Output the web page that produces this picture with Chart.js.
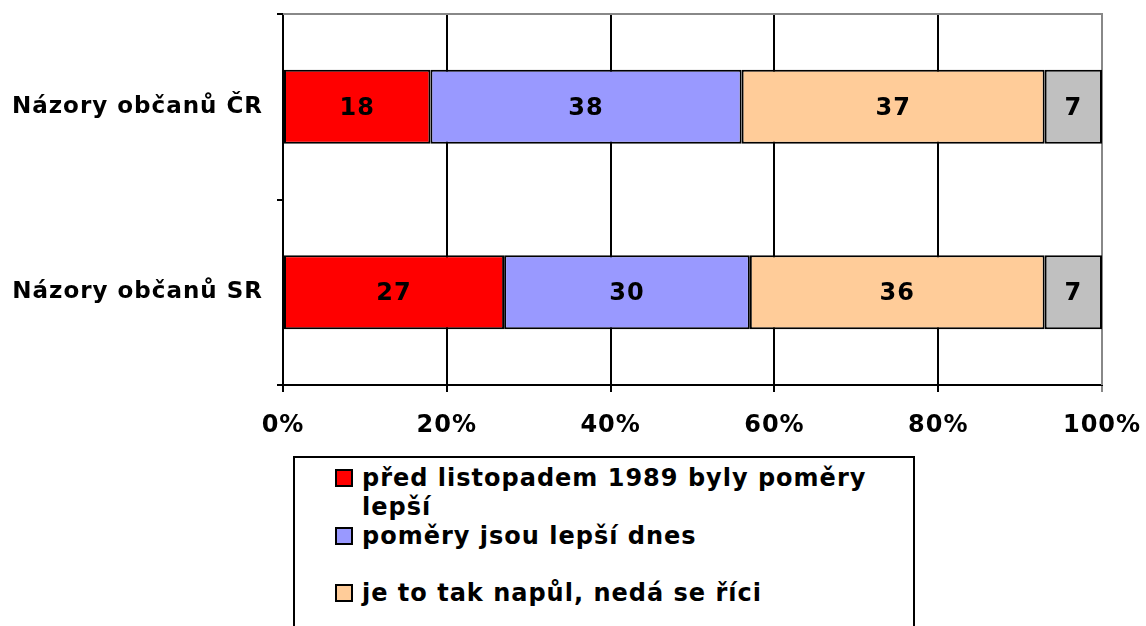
<!DOCTYPE html>
<html>
<head>
<meta charset="utf-8">
<script src="https://cdn.jsdelivr.net/npm/chart.js@4.4.1/dist/chart.umd.min.js"></script>
<style>
  html, body { margin: 0; padding: 0; background: #fff; overflow: hidden; }
  #wrap { position: relative; width: 1146px; height: 626px; }
  #legend {
    position: absolute; left: 293px; top: 456px; width: 618px; height: 240px;
    border: 2px solid #000; background: #fff;
    font: bold 24px "DejaVu Sans", Verdana, sans-serif; letter-spacing: 1px; color: #000;
  }
  .item { position: absolute; left: 40px; width: 560px; line-height: 29px; }
  .sw { position: absolute; left: 0; top: 5px; width: 14px; height: 14px; border: 2px solid #000; }
  .txt { position: absolute; left: 27px; top: 0; width: 530px; }
</style>
</head>
<body>
<div id="wrap">
  <canvas id="c" width="1146" height="626"></canvas>
  <div id="legend"></div>
</div>
<script>
var categories = ['Názory občanů ČR', 'Názory občanů SR'];
var seriesNames = ['před listopadem 1989 byly poměry lepší', 'poměry jsou lepší dnes', 'je to tak napůl, nedá se říci', 'neví'];
var before1989 = [18, 27];
var betterToday = [38, 30];
var halfHalf = [37, 36];
var dontKnow = [7, 7];
var colors = ['#FF0000', '#9999FF', '#FFCC99', '#C0C0C0'];
var xTicks = [0, 20, 40, 60, 80, 100];

var FONT = '"DejaVu Sans", Verdana, sans-serif';

// širší písmo (Verdana) - trochu proložit
var spacing = {
    id: 'spacing',
    beforeDraw: function(chart) { chart.ctx.letterSpacing = '1px'; }
};

// popisky hodnot uprostřed segmentů
var valueLabels = {
    id: 'valueLabels',
    afterDatasetsDraw: function(chart) {
        var ctx = chart.ctx;
        ctx.save();
        ctx.font = 'bold 24px ' + FONT;
        ctx.fillStyle = '#000';
        ctx.textAlign = 'center';
        ctx.textBaseline = 'middle';
        chart.data.datasets.forEach(function(ds, i) {
            chart.getDatasetMeta(i).data.forEach(function(bar, j) {
                var cx = (bar.x + bar.base) / 2;
                ctx.fillText(ds.data[j], cx, bar.y + 2);
            });
        });
        ctx.restore();
    }
};

// šedý rámeček nahoře a vpravo
var frame = {
    id: 'frame',
    beforeDatasetsDraw: function(chart) {
        var a = chart.chartArea, ctx = chart.ctx;
        ctx.save();
        ctx.strokeStyle = '#888';
        ctx.lineWidth = 2;
        ctx.beginPath();
        ctx.moveTo(a.left, a.top);
        ctx.lineTo(a.right, a.top);
        ctx.lineTo(a.right, a.bottom);
        ctx.stroke();
        ctx.restore();
    }
};

var data = [before1989, betterToday, halfHalf, dontKnow];

new Chart(document.getElementById('c'), {
    type: 'bar',
    data: {
        labels: categories,
        datasets: data.map(function(d, i) {
            return {
                label: seriesNames[i],
                data: d,
                backgroundColor: colors[i],
                borderColor: '#000',
                borderWidth: 2,
                borderSkipped: false,
                barPercentage: 0.4,
                categoryPercentage: 1.0
            };
        })
    },
    options: {
        indexAxis: 'y',
        responsive: false,
        animation: false,
        layout: { padding: { top: 14, right: 44, left: 0, bottom: 0 } },
        plugins: { legend: { display: false }, tooltip: { enabled: false } },
        scales: {
            x: {
                stacked: true,
                min: 0,
                max: 100,
                afterBuildTicks: function(scale) {
                    scale.ticks = xTicks.map(function(v) { return { value: v }; });
                },
                afterFit: function(scale) {
                    scale.height = 241;
                    scale.paddingLeft = 0;
                    scale.paddingRight = 0;
                },
                grid: {
                    color: function(c) { return c.tick && c.tick.value === 100 ? '#888' : '#000'; },
                    lineWidth: 2,
                    tickLength: 7
                },
                border: { color: '#000', width: 2 },
                ticks: {
                    padding: 19,
                    color: '#000',
                    font: { family: FONT, size: 24, weight: 'bold' },
                    callback: function(v) { return v + '%'; }
                }
            },
            y: {
                stacked: true,
                afterFit: function(scale) {
                    scale.width = 283;
                    scale.paddingTop = 0;
                    scale.paddingBottom = 0;
                },
                grid: {
                    drawOnChartArea: false,
                    color: '#000',
                    lineWidth: 2,
                    tickLength: 6,
                    offset: true
                },
                border: { color: '#000', width: 2 },
                ticks: {
                    padding: 14,
                    color: '#000',
                    font: { family: FONT, size: 23, weight: 'bold' }
                }
            }
        }
    },
    plugins: [spacing, frame, valueLabels]
});

// legenda
var tops = [6, 64, 121, 178];
var lg = document.getElementById('legend');
seriesNames.forEach(function(name, i) {
    var it = document.createElement('div');
    it.className = 'item';
    it.style.top = tops[i] + 'px';
    it.innerHTML = '<span class="sw" style="background:' + colors[i] + '"></span><span class="txt">' + name + '</span>';
    lg.appendChild(it);
});
</script>
</body>
</html>
